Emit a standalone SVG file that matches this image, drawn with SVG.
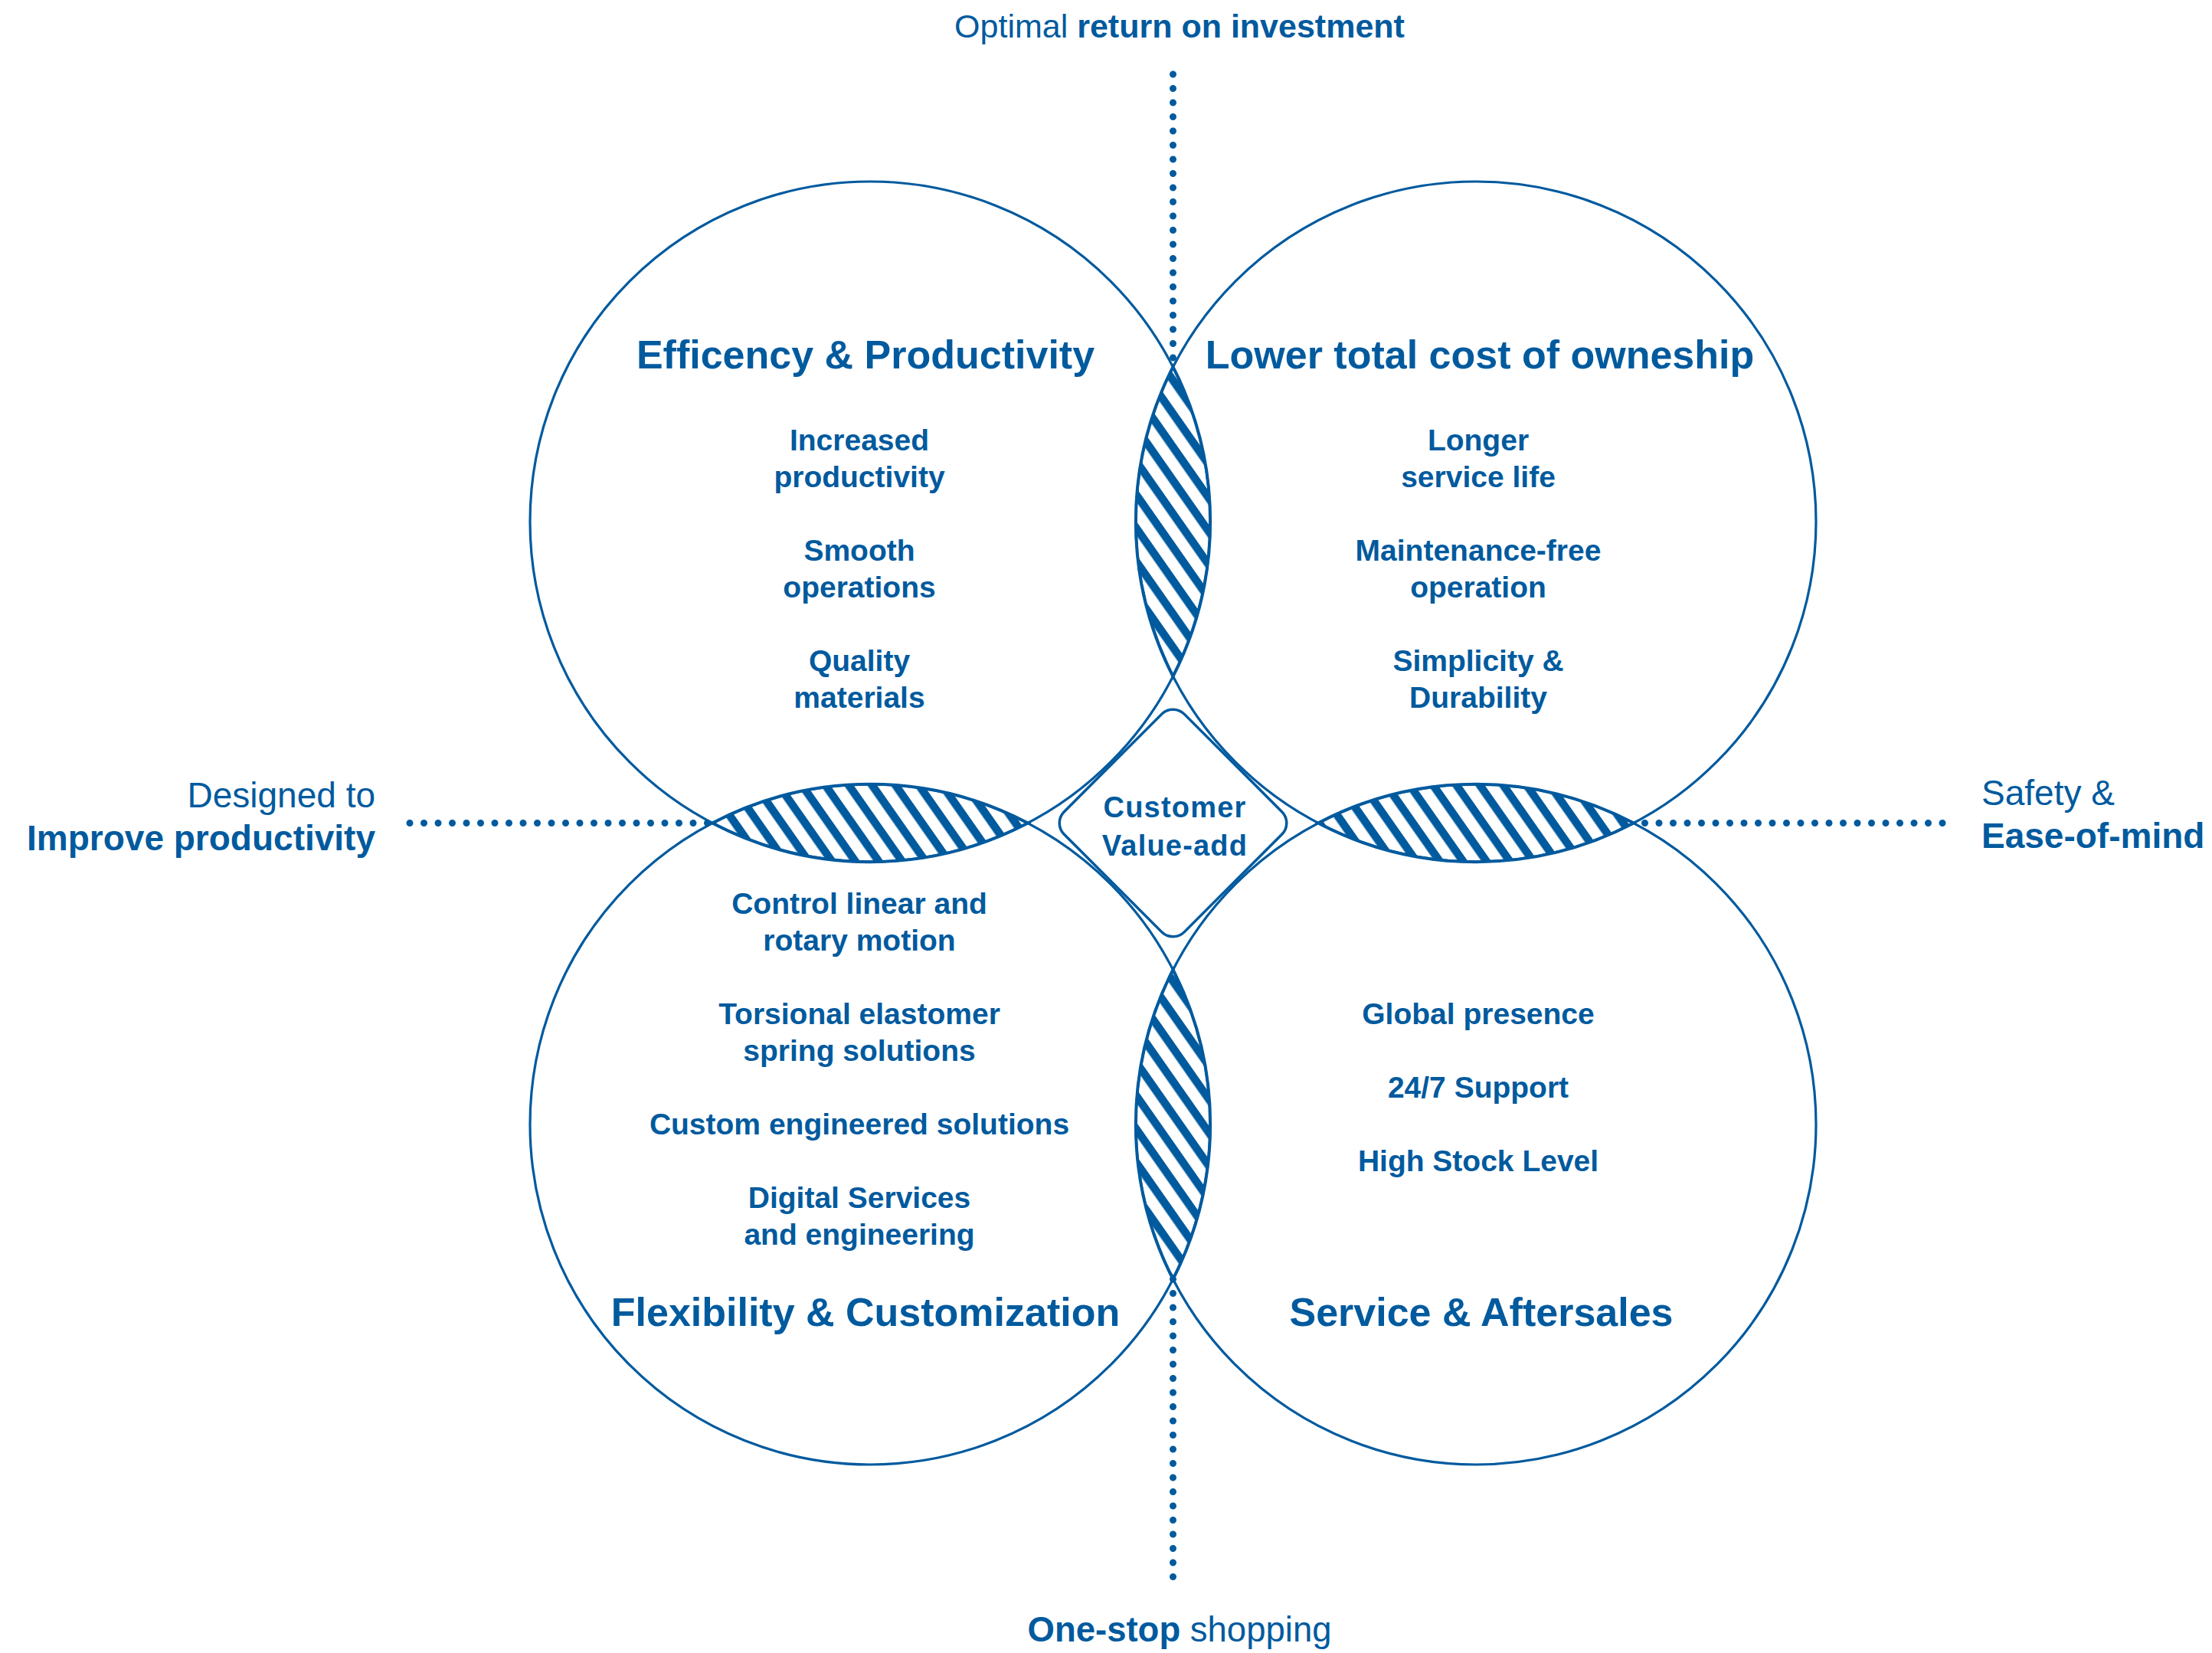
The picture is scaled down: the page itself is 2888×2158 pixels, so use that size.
<svg xmlns="http://www.w3.org/2000/svg" width="2888" height="2158" viewBox="0 0 2888 2158">
  <style>
    text { font-family: "Liberation Sans", Arial, Helvetica, sans-serif; fill: #005a9e; }
    .title { font-size: 52px; font-weight: bold; text-anchor: middle; }
    .item { font-size: 39px; font-weight: bold; text-anchor: middle; }
    .side { font-size: 46px; }
    .b { font-weight: bold; }
    .circle { fill: none; stroke: #005a9e; stroke-width: 3.2; }
    .lens { fill: url(#hatch); stroke: #005a9e; stroke-width: 4; }
    .diamond { fill: #ffffff; stroke: #005a9e; stroke-width: 3.5; }
    .dots { stroke: #005a9e; stroke-width: 9; stroke-linecap: round; stroke-dasharray: 0 18.5; fill: none; }
  </style>
  <defs>
    <pattern id="hatch" patternUnits="userSpaceOnUse" width="25" height="25" patternTransform="rotate(55)">
      <rect width="25" height="25" fill="#ffffff"/>
      <rect width="25" height="10.5" fill="#005a9e"/>
    </pattern>
  </defs>
  <rect width="2888" height="2158" fill="#ffffff"/>

  <g id="connectors">
    <line class="dots" x1="1531.5" y1="97" x2="1531.5" y2="479"/>
    <line class="dots" x1="1531.5" y1="1670" x2="1531.5" y2="2064"/>
    <line class="dots" x1="535" y1="1074.5" x2="930" y2="1074.5"/>
    <line class="dots" x1="2536" y1="1074.5" x2="2133" y2="1074.5"/>
  </g>

  <g id="overlaps">
    <path id="lens-top" class="lens" d="M 1531.5 479 A 444 444 0 0 1 1531.5 883 A 444 444 0 0 1 1531.5 479 Z"/>
    <path id="lens-bottom" class="lens" d="M 1531.5 1266 A 444 444 0 0 1 1531.5 1670 A 444 444 0 0 1 1531.5 1266 Z"/>
    <path id="lens-left" class="lens" d="M 930 1074.5 A 444 444 0 0 1 1342 1074.5 A 444 444 0 0 1 930 1074.5 Z"/>
    <path id="lens-right" class="lens" d="M 1721 1074.5 A 444 444 0 0 1 2133 1074.5 A 444 444 0 0 1 1721 1074.5 Z"/>
  </g>

  <g id="node-efficiency">
    <circle class="circle" cx="1136" cy="681" r="444"/>
    <text class="title" x="1130" y="481">Efficency &amp; Productivity</text>
    <text class="item" x="1122" y="588">Increased</text>
    <text class="item" x="1122" y="636">productivity</text>
    <text class="item" x="1122" y="732">Smooth</text>
    <text class="item" x="1122" y="780">operations</text>
    <text class="item" x="1122" y="876">Quality</text>
    <text class="item" x="1122" y="924">materials</text>
  </g>

  <g id="node-cost">
    <circle class="circle" cx="1927" cy="681" r="444"/>
    <text class="title" x="1932" y="481">Lower total cost of owneship</text>
    <text class="item" x="1930" y="588">Longer</text>
    <text class="item" x="1930" y="636">service life</text>
    <text class="item" x="1930" y="732">Maintenance-free</text>
    <text class="item" x="1930" y="780">operation</text>
    <text class="item" x="1930" y="876">Simplicity &amp;</text>
    <text class="item" x="1930" y="924">Durability</text>
  </g>

  <g id="node-flexibility">
    <circle class="circle" cx="1136" cy="1468" r="444"/>
    <text class="item" x="1122" y="1193">Control linear and</text>
    <text class="item" x="1122" y="1241">rotary motion</text>
    <text class="item" x="1122" y="1337">Torsional elastomer</text>
    <text class="item" x="1122" y="1385">spring solutions</text>
    <text class="item" x="1122" y="1481">Custom engineered solutions</text>
    <text class="item" x="1122" y="1577">Digital Services</text>
    <text class="item" x="1122" y="1625">and engineering</text>
    <text class="title" x="1130" y="1731">Flexibility &amp; Customization</text>
  </g>

  <g id="node-service">
    <circle class="circle" cx="1927" cy="1468" r="444"/>
    <text class="item" x="1930" y="1337">Global presence</text>
    <text class="item" x="1930" y="1433">24/7 Support</text>
    <text class="item" x="1930" y="1529">High Stock Level</text>
    <text class="title" x="1934" y="1731">Service &amp; Aftersales</text>
  </g>

  <g id="node-customer-value">
    <rect class="diamond" x="1420.5" y="963.5" width="222" height="222" rx="21" ry="21" transform="rotate(45 1531.5 1074.5)"/>
    <text x="1534" y="1067" style="font-size:38px;font-weight:bold;text-anchor:middle;letter-spacing:1.2px">Customer</text>
    <text x="1534" y="1117" style="font-size:38px;font-weight:bold;text-anchor:middle;letter-spacing:1.2px">Value-add</text>
  </g>

  <g id="label-top">
    <text x="1540" y="49" style="font-size:43px;text-anchor:middle">Optimal <tspan class="b">return on investment</tspan></text>
  </g>
  <g id="label-bottom">
    <text x="1540" y="2143" style="font-size:45.5px;text-anchor:middle"><tspan class="b">One-stop</tspan> shopping</text>
  </g>
  <g id="label-left">
    <text class="side" x="490" y="1054" style="text-anchor:end">Designed to</text>
    <text class="side b" x="490" y="1110" style="text-anchor:end">Improve productivity</text>
  </g>
  <g id="label-right">
    <text class="side" x="2587" y="1051">Safety &amp;</text>
    <text class="side b" x="2587" y="1107">Ease-of-mind</text>
  </g>
</svg>
